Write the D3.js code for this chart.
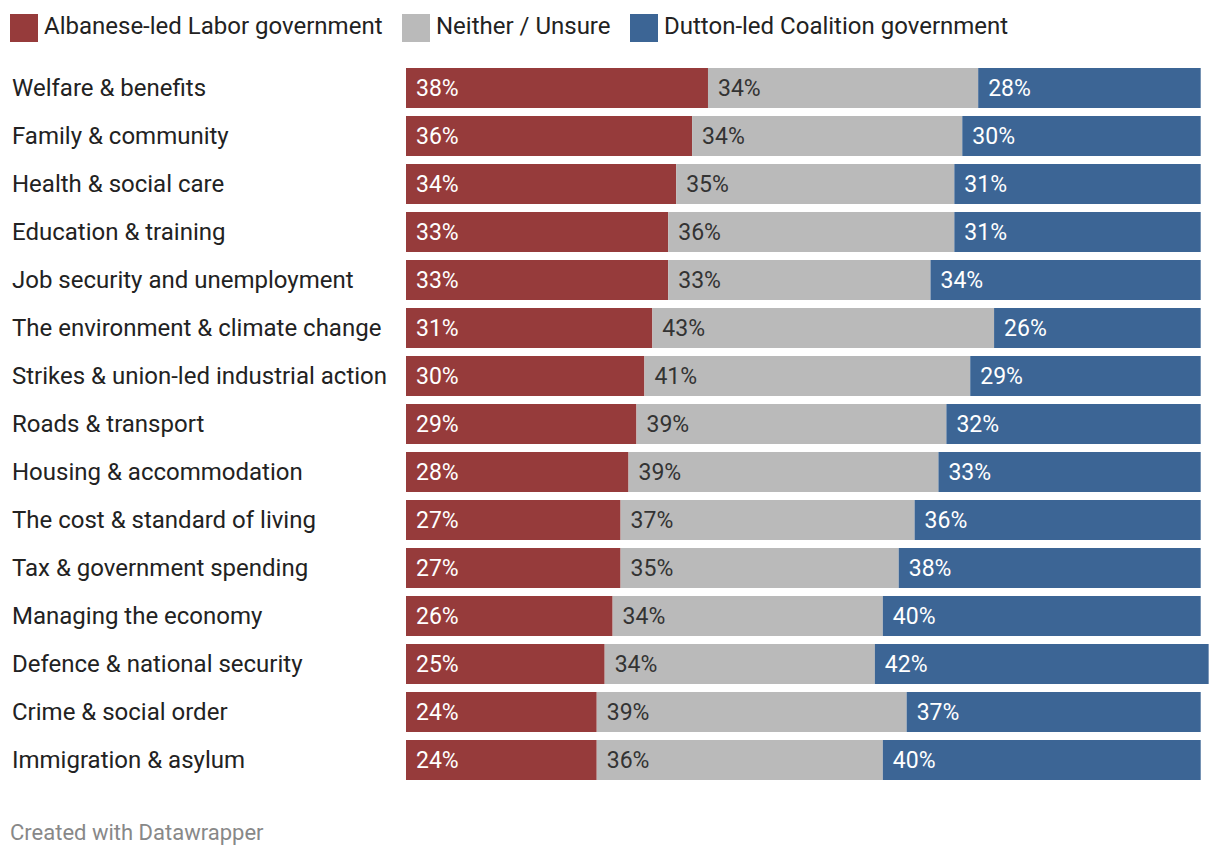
<!DOCTYPE html>
<html><head><meta charset="utf-8">
<script src="https://cdn.jsdelivr.net/npm/d3@7"></script>
<style>body{margin:0;background:#fff;font-family:Roboto,sans-serif}</style>
</head><body><svg id="c" width="1220" height="858"></svg>
<script>
const categories = ["Welfare & benefits","Family & community","Health & social care","Education & training","Job security and unemployment","The environment & climate change","Strikes & union-led industrial action","Roads & transport","Housing & accommodation","The cost & standard of living","Tax & government spending","Managing the economy","Defence & national security","Crime & social order","Immigration & asylum"];
const labor = [38,36,34,33,33,31,30,29,28,27,27,26,25,24,24];
const neither = [34,34,35,36,33,43,41,39,39,37,35,34,34,39,36];
const coalition = [28,30,31,31,34,26,29,32,33,36,38,40,42,37,40];
const seriesNames = ["Albanese-led Labor government","Neither / Unsure","Dutton-led Coalition government"];
const colors = ["#963b3b","#bababa","#3c6595"];
const textColors = ["#ffffff","#333333","#ffffff"];

const svg = d3.select("#c");
const x = d3.scaleLinear().domain([0,100]).range([406,1200.7]);
const yb = d3.scaleBand().domain(categories).range([64,64+48*15]).paddingInner(8/48).paddingOuter(4/48);

// legend
const legX = [10,402,630];
const lg = svg.append("g");
seriesNames.forEach((n,i)=>{
  lg.append("rect").attr("x",legX[i]).attr("y",14).attr("width",28).attr("height",28).attr("fill",colors[i]);
  lg.append("text").attr("x",legX[i]+34).attr("y",26).attr("dy","0.35em").attr("font-size",24).attr("fill","#222").text(n);
});

const rows = categories.map((c,i)=>({c, vals:[labor[i],neither[i],coalition[i]]}));
const g = svg.append("g");
rows.forEach(r=>{
  let acc=0;
  const yy = yb(r.c), h = yb.bandwidth();
  g.append("text").attr("x",12).attr("y",yy+h/2).attr("dy","0.35em").attr("font-size",24).attr("fill","#222").text(r.c);
  r.vals.forEach((v,j)=>{
    const x0 = x(acc), x1 = x(acc+v);
    g.append("rect").attr("x",x0).attr("y",yy).attr("width",x1-x0).attr("height",h).attr("fill",colors[j]);
    g.append("text").attr("x",x0+10).attr("y",yy+h/2).attr("dy","0.35em").attr("font-size",23).attr("fill",textColors[j]).text(v+"%");
    acc+=v;
  });
});

svg.append("text").attr("x",10).attr("y",832).attr("dy","0.35em").attr("font-size",22).attr("fill","#888").text("Created with Datawrapper");
</script></body></html>
